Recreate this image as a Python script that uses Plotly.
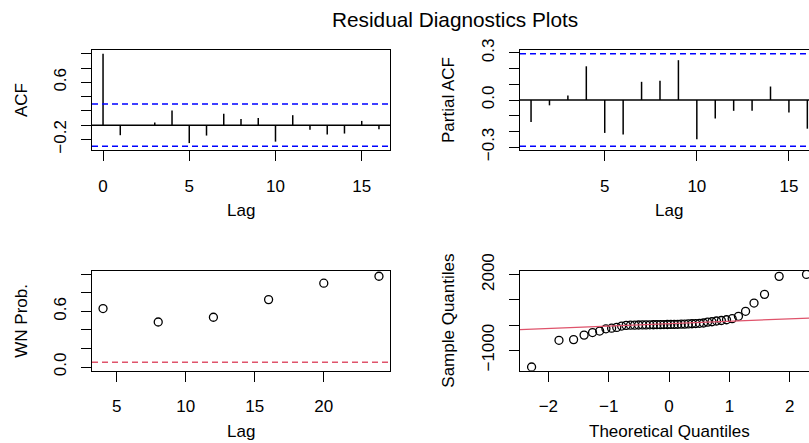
import plotly.graph_objects as go

# ---------------- data ----------------
acf_lags = list(range(0, 17))
acf_vals = [1.0, -0.14, -0.01, 0.037, 0.205, -0.25, -0.145, 0.16, 0.085, 0.10,
            -0.23, 0.14, -0.065, -0.13, -0.117, 0.06, -0.056]

pacf_lags = list(range(1, 17))
pacf_vals = [-0.14, -0.034, 0.028, 0.215, -0.21, -0.22, 0.116, 0.123, 0.254,
             -0.25, -0.118, -0.069, -0.069, 0.086, -0.08, -0.183]

conf_limit = 0.2955

wn_lags = [4, 8, 12, 16, 20, 24]
wn_prob = [0.631, 0.486, 0.537, 0.728, 0.905, 0.980]
wn_level = 0.05

qq_theoretical = [-2.278, -1.824, -1.582, -1.408, -1.268, -1.150, -1.046, -0.952,
                  -0.867, -0.786, -0.711, -0.639, -0.571, -0.505, -0.441, -0.380,
                  -0.319, -0.259, -0.201, -0.143, -0.0855, -0.0285,
                  0.0285, 0.0855, 0.143, 0.201, 0.259, 0.319, 0.380, 0.441,
                  0.505, 0.571, 0.639, 0.711, 0.786, 0.867, 0.952, 1.046,
                  1.150, 1.268, 1.408, 1.582, 1.824, 2.278]
qq_sample = [-1667, -607, -580, -400, -300, -240, -150, -125, -95, -40, -15, -8,
             -5, 0, 2, 5, 8, 10, 12, 15, 18, 20, 22, 25, 28, 32, 36, 42, 50, 58,
             68, 80, 115, 130, 160, 180, 210, 250, 345, 544, 873, 1218, 1932, 2010]
qq_line_intercept = 55
qq_line_slope = 96

acf_yticks = [-0.2, 0.0, 0.2, 0.4, 0.6, 0.8, 1.0]
acf_yticklabels = ["\u22120.2", "", "", "", "0.6", "", ""]
pacf_yticks = [-0.3, -0.2, -0.1, 0.0, 0.1, 0.2, 0.3]
pacf_yticklabels = ["\u22120.3", "", "", "0.0", "", "", "0.3"]
wn_yticks = [0.0, 0.2, 0.4, 0.6, 0.8, 1.0]
wn_yticklabels = ["0.0", "", "", "0.6", "", ""]
qq_yticks = [-1000, 0, 1000, 2000]
qq_yticklabels = ["\u22121000", "", "", "2000"]
acf_xticks = [0, 5, 10, 15]
pacf_xticks = [5, 10, 15]
wn_xticks = [5, 10, 15, 20]
qq_xticks = [-2, -1, 0, 1, 2]
qq_xticklabels = ["\u22122", "\u22121", "0", "1", "2"]

# ---------------- layout helpers ----------------
W, H = 809, 443
FONT = "Liberation Sans, Arial, Helvetica, sans-serif"
RED = "#DF536B"


def px_x(a, b):
    return [a / W, b / W]


def px_y(top, bottom):
    return [1 - bottom / H, 1 - top / H]


def axis(dom, rng, tickvals, ticktext=None, mirror=True, is_y=False, anchor=None):
    d = dict(domain=dom, range=rng, showline=True, linecolor="black", linewidth=1.3,
             mirror=mirror, ticks="outside", ticklen=10, tickwidth=1.3,
             tickcolor="black", showgrid=False, zeroline=False, automargin=False,
             tickmode="array", tickvals=tickvals, anchor=anchor,
             tickfont=dict(family=FONT, size=17, color="black"))
    if ticktext is not None:
        d["ticktext"] = ticktext
    if is_y:
        d["tickangle"] = -90
        d["ticklabelstandoff"] = 8
    else:
        d["ticklabelstandoff"] = 10
    return d


def stems(xs, ys):
    sx, sy = [], []
    for x, y in zip(xs, ys):
        sx += [x, x, None]
        sy += [0, y, None]
    return sx, sy


fig = go.Figure()

# ACF
ax, ay = stems(acf_lags, acf_vals)
fig.add_trace(go.Scatter(x=ax, y=ay, mode="lines", line=dict(color="black", width=1.5),
                         xaxis="x", yaxis="y", showlegend=False, hoverinfo="skip"))
# PACF
px_, py_ = stems(pacf_lags, pacf_vals)
fig.add_trace(go.Scatter(x=px_, y=py_, mode="lines", line=dict(color="black", width=1.5),
                         xaxis="x2", yaxis="y2", showlegend=False, hoverinfo="skip"))
# WN prob
fig.add_trace(go.Scatter(x=wn_lags, y=wn_prob, mode="markers",
                         marker=dict(symbol="circle-open", size=8, color="black",
                                     line=dict(width=1.3)),
                         xaxis="x3", yaxis="y3", showlegend=False))
# QQ
fig.add_trace(go.Scatter(x=qq_theoretical, y=qq_sample, mode="markers",
                         marker=dict(symbol="circle-open", size=8, color="black",
                                     line=dict(width=1.3)),
                         xaxis="x4", yaxis="y4", showlegend=False))
qq_xr = [-2.47, 2.319]
fig.add_trace(go.Scatter(x=qq_xr, y=[qq_line_intercept + qq_line_slope * v for v in qq_xr],
                         mode="lines", line=dict(color=RED, width=1.3),
                         xaxis="x4", yaxis="y4", showlegend=False, hoverinfo="skip"))

shapes = []
for xr, yr in [("x", "y"), ("x2", "y2")]:
    shapes.append(dict(type="line", xref=xr + " domain", yref=yr, x0=0, x1=1, y0=0, y1=0,
                       line=dict(color="black", width=1.5)))
    for c in (conf_limit, -conf_limit):
        shapes.append(dict(type="line", xref=xr + " domain", yref=yr, x0=0, x1=1, y0=c, y1=c,
                           line=dict(color="blue", width=1.5, dash="6px,4px")))
shapes.append(dict(type="line", xref="x3 domain", yref="y3", x0=0, x1=1, y0=wn_level,
                   y1=wn_level, line=dict(color=RED, width=1.5, dash="6px,4px")))

ann = []


def label(text, x, y, angle=0, size=17):
    ann.append(dict(text=text, x=x / W, y=1 - y / H, xref="paper", yref="paper",
                    showarrow=False, textangle=angle, xanchor="center", yanchor="middle",
                    font=dict(family=FONT, size=size, color="black")))


label("Residual Diagnostics Plots", 455, 19, size=20.8)
label("Lag", 241, 210)
label("Lag", 669, 210)
label("Lag", 241, 431)
label("Theoretical Quantiles", 669, 431)
label("ACF", 22, 100, angle=-90)
label("Partial ACF", 449, 100, angle=-90)
label("WN Prob.", 22, 320.7, angle=-90)
label("Sample Quantiles", 449, 320.7, angle=-90)

fig.update_layout(
    width=W, height=H, margin=dict(l=0, r=0, t=0, b=0, autoexpand=False),
    paper_bgcolor="white", plot_bgcolor="white",
    xaxis=axis(px_x(92, 390), [-0.64, 16.64], acf_xticks, anchor="y"),
    yaxis=axis(px_y(50, 150), [-0.347, 1.052], acf_yticks, acf_yticklabels,
               is_y=True, anchor="x"),
    xaxis2=axis(px_x(520, 809), [0.4, 16.09], pacf_xticks, anchor="y2"),
    yaxis2=axis(px_y(50, 150), [-0.319, 0.319], pacf_yticks, pacf_yticklabels,
                mirror=False, is_y=True, anchor="x2"),
    xaxis3=axis(px_x(92, 390), [3.2, 24.8], wn_xticks, anchor="y3"),
    yaxis3=axis(px_y(270.7, 370.7), [-0.04, 1.04], wn_yticks, wn_yticklabels,
                is_y=True, anchor="x3"),
    xaxis4=axis(px_x(520, 809), qq_xr, qq_xticks, qq_xticklabels, anchor="y4"),
    yaxis4=axis(px_y(270.7, 370.7), [-1814, 2157], qq_yticks, qq_yticklabels,
                mirror=False, is_y=True, anchor="x4"),
    shapes=shapes, annotations=ann,
)

fig.write_html("out.html", config={"displayModeBar": False},
               post_script="document.body.style.margin='0px';"
                           "document.body.style.overflow='hidden';")
